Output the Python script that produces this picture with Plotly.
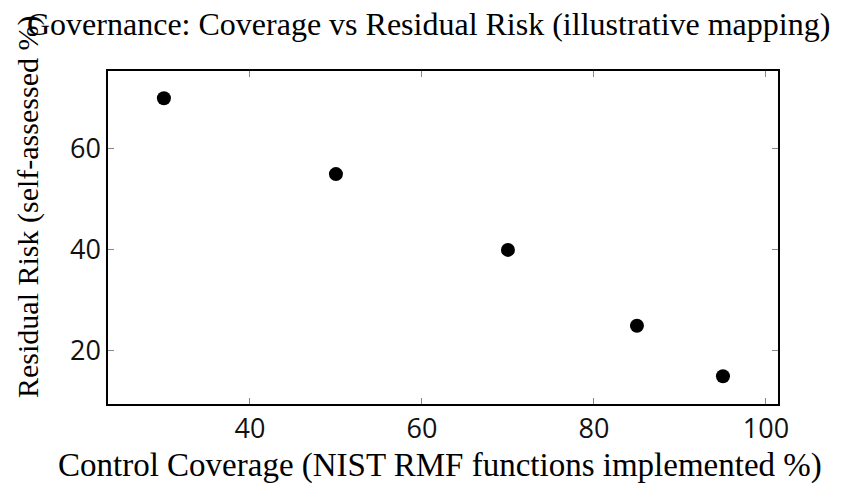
import plotly.graph_objects as go

coverage = [30, 50, 70, 85, 95]
residual_risk = [70, 55, 40, 25, 15]
x_ticks = [40, 60, 80, 100]
y_ticks = [20, 40, 60]

title_text = "Governance: Coverage vs Residual Risk (illustrative mapping)"
x_title = "Control Coverage (NIST RMF functions implemented %)"
y_title = "Residual Risk (self-assessed %)"

W, H = 854, 489
L, R, T, B = 108, 778, 71, 404
pw, ph = R - L, B - T

def px(x):
    return (x - L) / pw

def py(y):
    return (B - y) / ph

fig = go.Figure()
fig.add_trace(go.Scatter(
    x=coverage, y=residual_risk, mode="markers",
    marker=dict(color="black", size=14),
    showlegend=False,
))

serif = "Liberation Serif, Times New Roman, serif"
fig.update_layout(
    width=W, height=H,
    margin=dict(l=L, r=W - R, t=T, b=H - B),
    paper_bgcolor="white", plot_bgcolor="white",
    font=dict(family="Open Sans, sans-serif", color="black", size=22),
    xaxis=dict(range=[23.5, 101.4], tickvals=x_ticks, ticks="inside", ticklen=6,
               tickcolor="#888", showline=True, linecolor="black", linewidth=1.5,
               mirror="ticks", showgrid=False, zeroline=False,
               tickfont=dict(size=27, color="#111")),
    yaxis=dict(range=[9.5, 75.4], tickvals=y_ticks, ticks="inside", ticklen=6,
               tickcolor="#888", showline=True, linecolor="black", linewidth=1.5,
               mirror="ticks", showgrid=False, zeroline=False,
               tickfont=dict(size=27, color="#111")),
    annotations=[
        dict(text=title_text, xref="paper", yref="paper", x=px(428), y=py(24),
             xanchor="center", yanchor="middle", showarrow=False,
             font=dict(family=serif, size=32)),
        dict(text=x_title, xref="paper", yref="paper", x=px(440), y=py(465),
             xanchor="center", yanchor="middle", showarrow=False,
             font=dict(family=serif, size=33)),
        dict(text=y_title, xref="paper", yref="paper", x=px(28), y=py(207),
             xanchor="center", yanchor="middle", showarrow=False, textangle=-90,
             font=dict(family=serif, size=30)),
    ],
)

fig.write_html("out.html")
